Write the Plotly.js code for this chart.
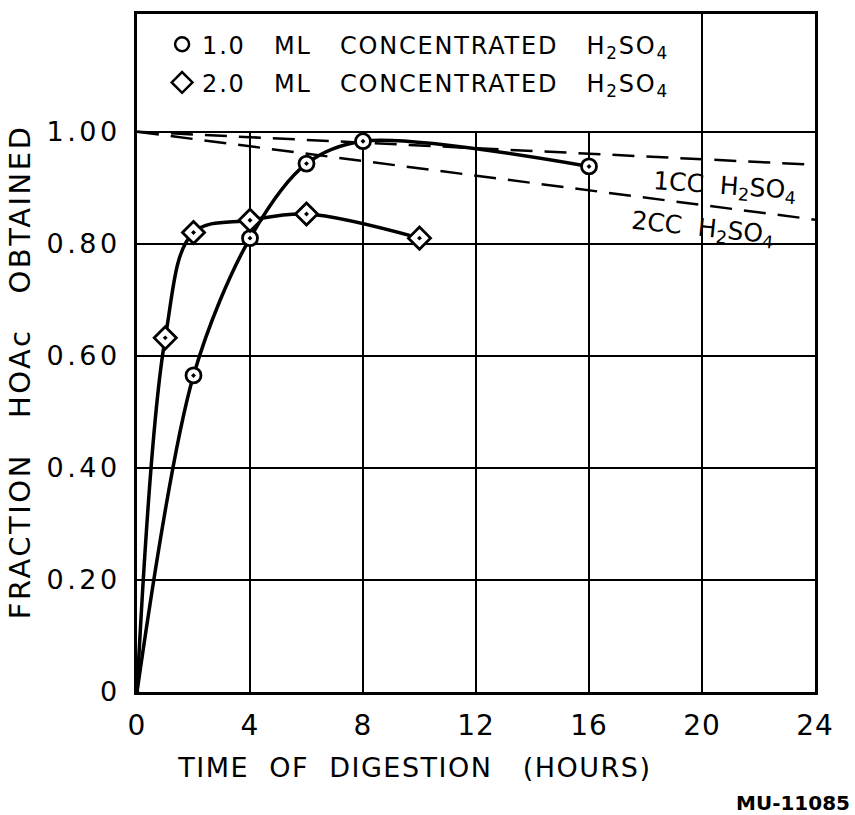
<!DOCTYPE html>
<html>
<head>
<meta charset="utf-8">
<script src="https://cdn.plot.ly/plotly-3.0.1.min.js"></script>
<style>
html,body{margin:0;padding:0;background:#fff;}
#chart{width:855px;height:815px;}
#chart .annotation-text.wide{letter-spacing:1.5px;}
#chart .annotation-text.widey{letter-spacing:2.5px;}
#chart .legendtext{letter-spacing:1.8px;}
#chart .ytick text{letter-spacing:3.5px;}
#chart .xtick text{letter-spacing:1px;}
</style>
</head>
<body>
<div id="chart"></div>
<script>
// Time of digestion (hours)
const hours1ml = [0, 2, 4, 6, 8, 16];
const frac1ml  = [0, 0.565, 0.81, 0.943, 0.983, 0.938];
const hours2ml = [0, 1, 2, 4, 6, 10];
const frac2ml  = [0, 0.632, 0.82, 0.842, 0.853, 0.81];
// Reference dashed lines
const ref1ccX = [0, 24];
const ref1ccY = [1.0, 0.941];
const ref2ccX = [0, 24];
const ref2ccY = [1.0, 0.843];
// Ticks
const xTicks = [0, 4, 8, 12, 16, 20, 24];
const yTicks = [0, 0.2, 0.4, 0.6, 0.8, 1.0];
const yTickText = ['0', '0.20', '0.40', '0.60', '0.80', '1.00'];
const legendNames = ['1.0&nbsp;&nbsp; ML&nbsp;&nbsp; CONCENTRATED&nbsp;&nbsp; H<sub>2</sub>SO<sub>4</sub>&nbsp;&nbsp;&nbsp;&nbsp;&nbsp;&nbsp;&nbsp;&nbsp;',
                     '2.0&nbsp;&nbsp; ML&nbsp;&nbsp; CONCENTRATED&nbsp;&nbsp; H<sub>2</sub>SO<sub>4</sub>&nbsp;&nbsp;&nbsp;&nbsp;&nbsp;&nbsp;&nbsp;&nbsp;'];

const FONT = 'DejaVu Sans, Liberation Sans, sans-serif';
const yTop = 1.21;
// no symbol is drawn at the origin (start of the curves)
const sizeFor = (xs, s) => xs.map(v => v === 0 ? 0 : s);

const traces = [
  {x: ref1ccX, y: ref1ccY, mode: 'lines', line: {color: 'black', width: 2.5, dash: '22px,12px'}, showlegend: false, hoverinfo: 'skip'},
  {x: ref2ccX, y: ref2ccY, mode: 'lines', line: {color: 'black', width: 2.5, dash: '22px,12px'}, showlegend: false, hoverinfo: 'skip'},
  {x: hours1ml, y: frac1ml, mode: 'lines+markers', line: {color: 'black', width: 3.5, shape: 'spline', smoothing: 0.9},
   marker: {symbol: 'circle-dot', size: sizeFor(hours1ml, 15), opacity: 1, color: 'white', line: {color: 'black', width: 2.8}}, showlegend: false},
  {x: hours2ml, y: frac2ml, mode: 'lines+markers', line: {color: 'black', width: 3.5, shape: 'spline', smoothing: 1},
   marker: {symbol: 'diamond-dot', size: sizeFor(hours2ml, 17), opacity: 1, color: 'white', line: {color: 'black', width: 2.8}}, showlegend: false},
  // key entries (symbols only, as in the original key)
  {x: [null], y: [null], mode: 'markers', name: legendNames[0], legendgroup: 'a',
   marker: {symbol: 'circle-open', size: 14, color: 'black', line: {color: 'black', width: 2.5}}},
  {x: [null], y: [null], mode: 'markers', name: legendNames[1], legendgroup: 'b',
   marker: {symbol: 'diamond-open', size: 16, color: 'black', line: {color: 'black', width: 2.5}}}
];

const shapes = xTicks.filter(v => v > xTicks[0] && v < xTicks[xTicks.length - 1]).map(v => ({
  type: 'line', layer: 'below', xref: 'x', yref: 'y',
  x0: v, x1: v, y0: 0, y1: v === 20 ? yTop : 1.0,
  line: {color: 'black', width: 2}
}));

const layout = {
  width: 855, height: 815,
  margin: {l: 137, r: 40, t: 14, b: 123},
  paper_bgcolor: 'white', plot_bgcolor: 'white',
  font: {family: FONT, color: 'black', size: 25},
  showlegend: true,
  legend: {x: 0.037, y: 0.988, xanchor: 'left', yanchor: 'top', bgcolor: 'rgba(0,0,0,0)',
           font: {family: FONT, size: 24, color: 'black'}, itemwidth: 30, tracegroupgap: 4},
  xaxis: {range: [0, 24], tickvals: xTicks, ticktext: xTicks.map(String), ticks: '',
          showgrid: false, zeroline: false, showline: true, mirror: true, linecolor: 'black', linewidth: 3,
          tickfont: {family: FONT, size: 28}, ticklabelstandoff: 6, fixedrange: true},
  yaxis: {range: [0, yTop], tickvals: yTicks, ticktext: yTickText, ticks: '',
          showgrid: true, gridcolor: 'black', gridwidth: 2, zeroline: false,
          showline: true, mirror: true, linecolor: 'black', linewidth: 3,
          tickfont: {family: FONT, size: 27}, ticklabelstandoff: 8, fixedrange: true},
  shapes: shapes,
  annotations: [
    {xref: 'paper', yref: 'paper', x: 0.41, y: -0.112, xanchor: 'center', yanchor: 'middle', showarrow: false,
     text: 'TIME&nbsp; OF&nbsp; DIGESTION&nbsp;&nbsp; (HOURS)', font: {family: FONT, size: 27}},
    {xref: 'paper', yref: 'paper', x: -0.172, y: 0.473, xanchor: 'center', yanchor: 'middle', showarrow: false,
     textangle: -90, text: 'FRACTION&nbsp;&nbsp; HOAc&nbsp;&nbsp; OBTAINED', font: {family: FONT, size: 29}},
    {xref: 'paper', yref: 'paper', x: 0.968, y: -0.164, xanchor: 'center', yanchor: 'middle', showarrow: false,
     text: '<b>MU-11085</b>', font: {family: FONT, size: 20}},
    {xref: 'x', yref: 'y', x: 20.8, y: 0.902, showarrow: false, textangle: 4,
     text: '1CC&nbsp; H<sub>2</sub>SO<sub>4</sub>', font: {family: FONT, size: 25}},
    {xref: 'x', yref: 'y', x: 20.0, y: 0.826, showarrow: false, textangle: 6,
     text: '2CC&nbsp; H<sub>2</sub>SO<sub>4</sub>', font: {family: FONT, size: 25}}
  ]
};

Plotly.newPlot('chart', traces, layout, {displayModeBar: false, staticPlot: true}).then(gd => {
  // widen letter spacing of the two axis captions, like the hand lettering
  gd.querySelectorAll('.annotation-text').forEach(t => {
    const s = t.textContent;
    if (s.indexOf('TIME') === 0) t.classList.add('wide');
    if (s.indexOf('FRACTION') === 0) t.classList.add('widey');
  });
});
</script>
</body>
</html>
